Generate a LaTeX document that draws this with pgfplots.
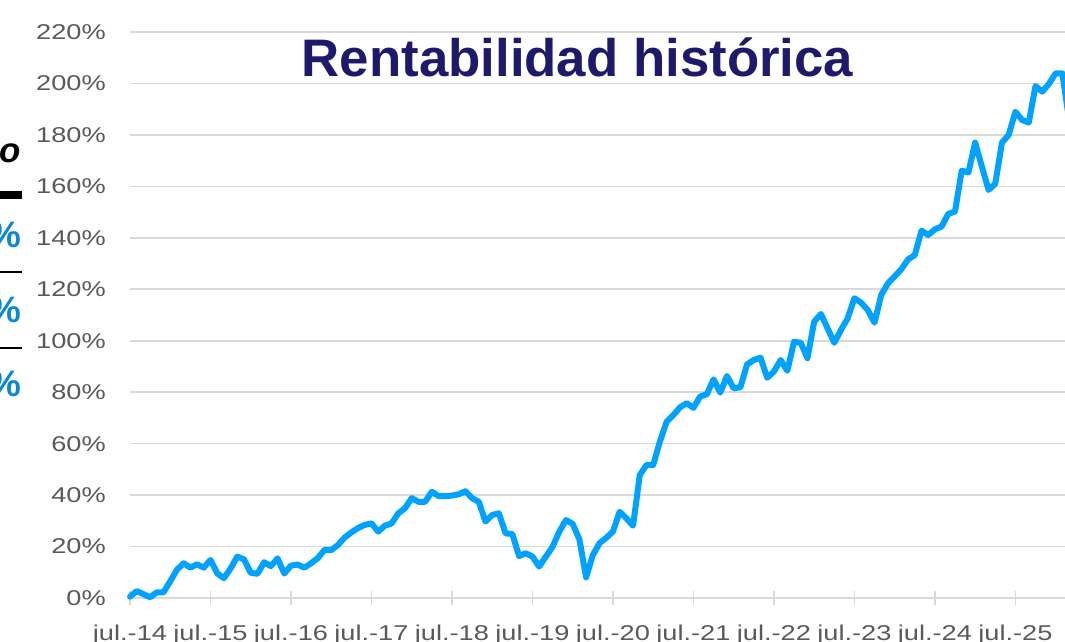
\documentclass[border=0pt]{standalone}
\usepackage{pgfplots}
\pgfplotsset{compat=1.18}
\usepackage{fontspec}
\setmainfont{Liberation Sans}
\definecolor{linecol}{HTML}{00A2FF}
\definecolor{gridcol}{HTML}{D9D9D9}
\definecolor{labcol}{HTML}{595959}
\definecolor{titlecol}{HTML}{1E1A6B}
\definecolor{pctcol}{HTML}{0A88D6}
\pgfplotstableread{
m v
0 0.5
1 2.7
2 1.5
3 0.3
4 2.2
5 2.2
6 6.5
7 11
8 13.5
9 11.8
10 13.1
11 11.8
12 14.8
13 9.6
14 7.7
15 11.5
16 16.1
17 15.0
18 9.8
19 9.4
20 13.9
21 12.4
22 15.4
23 9.5
24 12.6
25 13.0
26 11.8
27 13.5
28 15.5
29 18.7
30 18.6
31 20.6
32 23.5
33 25.5
34 27.2
35 28.4
36 29.0
37 25.8
38 28.1
39 29.0
40 32.9
41 34.9
42 38.8
43 37.4
44 37.4
45 41.3
46 39.6
47 39.6
48 39.8
49 40.3
50 41.5
51 38.8
52 37.4
53 29.7
54 32.3
55 32.9
56 25.1
57 24.9
58 16.3
59 17.4
60 16.1
61 12.2
62 16.1
63 19.9
64 25.8
65 30.3
66 28.8
67 22.8
68 8.0
69 16.7
70 21.3
71 23.4
72 25.8
73 33.5
74 31.0
75 28.1
76 47.8
77 51.7
78 51.7
79 60.8
80 68.5
81 71.1
82 74.1
83 75.7
84 73.9
85 78.3
86 79.2
87 85.0
88 79.8
89 86.3
90 81.5
91 81.9
92 90.8
93 92.5
94 93.4
95 85.6
96 88.0
97 92.5
98 88.3
99 99.6
100 99.2
101 93.2
102 107.4
103 110.4
104 104.8
105 99.2
106 104.2
107 108.7
108 116.5
109 114.8
110 111.9
111 107.0
112 117.8
113 122.3
114 125.0
115 127.8
116 131.6
117 133.3
118 142.8
119 141.1
120 143.3
121 144.4
122 149.3
123 150.2
124 166.1
125 165.4
126 177.0
127 167.7
128 158.6
129 161.0
130 177.0
131 180.0
132 189.0
133 185.8
134 184.8
135 199.0
136 196.8
137 199.8
138 203.9
139 203.9
140 186
}\rentab
\begin{document}
\begin{tikzpicture}[x=1bp,y=1bp]
\useasboundingbox (0,0) rectangle (1065,642);
\clip (0,0) rectangle (1065,642);
\begin{axis}[
  at={(130bp,44bp)}, anchor=south west,
  scale only axis, width=935bp, height=566bp,
  xmin=0, xmax=139.4, ymin=0, ymax=220,
  clip=false,
  axis line style={draw=none},
  ymajorgrids,
  major grid style={draw=gridcol, line width=1.6bp},
  xtick={0,12,...,132},
  xticklabels={jul.-14,jul.-15,jul.-16,jul.-17,jul.-18,jul.-19,jul.-20,jul.-21,jul.-22,jul.-23,jul.-24,jul.-25},
  ytick={0,20,...,220},
  yticklabels={0\%,20\%,40\%,60\%,80\%,100\%,120\%,140\%,160\%,180\%,200\%,220\%},
  xtick pos=bottom, ytick pos=left,
  tick align=center,
  xtick style={draw=gridcol, line width=1.6bp},
  ytick style={draw=none},
  major tick length=14bp,
  yticklabel style={font=\fontsize{21.5}{24}\selectfont, text=labcol, anchor=east, inner sep=0pt, xshift=-17bp, xscale=1.27},
  xticklabel style={font=\fontsize{21.5}{24}\selectfont, text=labcol, anchor=base, inner sep=0pt, yshift=-36bp, xscale=1.27},
]
\addplot[linecol, line width=6bp, line join=round, line cap=round] table[x=m, y=v] {\rentab};
\end{axis}
\node[anchor=base, text=titlecol, font=\fontsize{53}{60}\selectfont\bfseries, inner sep=0pt] at (577.5,565) {Rentabilidad histórica};
\node[anchor=base east, font=\fontsize{35}{40}\selectfont\bfseries\itshape, inner sep=0pt] at (21,479) {o};
\fill (0,443) rectangle (22,451);
\node[anchor=base east, text=pctcol, font=\fontsize{37}{40}\selectfont\bfseries, inner sep=0pt] at (21.5,394) {\%};
\draw[line width=2bp] (0,370) -- (22,370);
\node[anchor=base east, text=pctcol, font=\fontsize{37}{40}\selectfont\bfseries, inner sep=0pt] at (21.5,319) {\%};
\draw[line width=2bp] (0,294) -- (22,294);
\node[anchor=base east, text=pctcol, font=\fontsize{37}{40}\selectfont\bfseries, inner sep=0pt] at (21.5,245) {\%};
\end{tikzpicture}
\end{document}
